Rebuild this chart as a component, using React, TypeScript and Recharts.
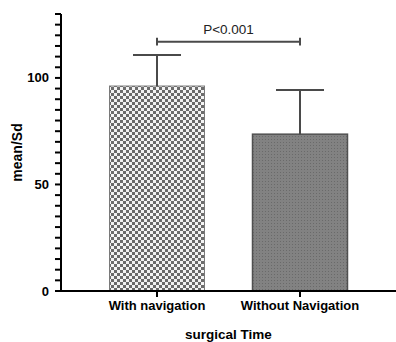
import { Bar, BarChart, ReferenceLine, XAxis, YAxis } from "recharts";

const categories = ["With navigation", "Without Navigation"];
const means = [96.2, 73.6];
const sds = [14.6, 20.7];
const yTicks = [0, 5, 10, 15, 20, 25, 30, 35, 40, 45, 50, 55, 60, 65, 70, 75, 80, 85, 90, 95, 100, 105, 110, 115, 120, 125, 130];
const yLabelled = [0, 50, 100];
const pBracketY = 117;
const pLabel = "P<0.001";

const data = categories.map((c, i) => ({ name: c, mean: means[i], sd: sds[i] }));

const barStyles = [
  { fill: "url(#checker)", stroke: "#7a7a7a", strokeWidth: 1 },
  { fill: "url(#dots)", stroke: "#505050", strokeWidth: 1.5 },
];

const font = "'Liberation Sans', Arial, sans-serif";
const whisker = "#4a4a4a";

function BarWithError(props: any) {
  const { x, y, width, height, payload, index } = props;
  const st = barStyles[index % barStyles.length];
  const perUnit = height / payload.mean;
  const top = y - payload.sd * perUnit;
  const cx = x + width / 2;
  return (
    <g>
      <rect x={x} y={y} width={width} height={height} fill={st.fill} stroke={st.stroke} strokeWidth={st.strokeWidth} />
      <line x1={cx} y1={y} x2={cx} y2={top} stroke={whisker} strokeWidth={2} />
      <line x1={cx - 24} y1={top} x2={cx + 24} y2={top} stroke={whisker} strokeWidth={2} />
    </g>
  );
}

// labels only on 0 / 50 / 100, the marks come from the axis tickLine
function YTick(props: any) {
  const { x, y, payload } = props;
  const v = payload.value;
  if (!yLabelled.includes(v)) return <g />;
  return (
    <text x={x - 4} y={y} textAnchor="end" dominantBaseline="central" fontFamily={font} fontWeight="bold" fontSize={13} fill="#000">
      {v}
    </text>
  );
}

export default function App() {
  return (
    <div style={{ position: "absolute", left: 0, top: 0, background: "#fff" }}>
      <BarChart width={396} height={342} data={data} margin={{ top: 14, right: 0, left: 0, bottom: 0 }} barSize={95}>
        <XAxis
          dataKey="name"
          height={51}
          padding={{ left: 24.5, right: 24.5 }}
          stroke="#000"
          strokeWidth={2}
          tickSize={6}
          tickMargin={4}
          tick={{ fill: "#000", fontFamily: font, fontWeight: "bold", fontSize: 13 }}
          label={{ value: "surgical Time", position: "insideBottom", offset: 3, fill: "#000", fontFamily: font, fontWeight: "bold", fontSize: 13.5 }}
        />
        <YAxis
          width={61}
          domain={[0, 130]}
          ticks={yTicks}
          interval={0}
          stroke="#000"
          strokeWidth={2}
          tickSize={6}
          tick={YTick}
          label={{ value: "mean/Sd", angle: -90, position: "center", dx: -13, fill: "#000", fontFamily: font, fontWeight: "bold", fontSize: 14 }}
        />
        <Bar dataKey="mean" isAnimationActive={false} shape={BarWithError} />
        <ReferenceLine
          segment={[{ x: categories[0], y: pBracketY }, { x: categories[1], y: pBracketY }]}
          stroke={whisker}
          strokeWidth={2}
          label={{ value: pLabel, position: "top", offset: 8, fill: "#222", fontFamily: font, fontSize: 13.5 }}
        />
        <ReferenceLine segment={[{ x: categories[0], y: pBracketY - 1.8 }, { x: categories[0], y: pBracketY + 1.8 }]} stroke={whisker} strokeWidth={2} />
        <ReferenceLine segment={[{ x: categories[1], y: pBracketY - 1.8 }, { x: categories[1], y: pBracketY + 1.8 }]} stroke={whisker} strokeWidth={2} />
        <defs>
          <pattern id="checker" width="6" height="6" patternUnits="userSpaceOnUse">
            <rect width="6" height="6" fill="#f4f4f4" />
            <rect width="3" height="3" fill="#6c6c6c" />
            <rect x="3" y="3" width="3" height="3" fill="#6c6c6c" />
          </pattern>
          <pattern id="dots" width="3" height="3" patternUnits="userSpaceOnUse">
            <rect width="3" height="3" fill="#828282" />
            <rect x="1" y="1" width="1" height="1" fill="#6a6a6a" />
          </pattern>
        </defs>
      </BarChart>
    </div>
  );
}
